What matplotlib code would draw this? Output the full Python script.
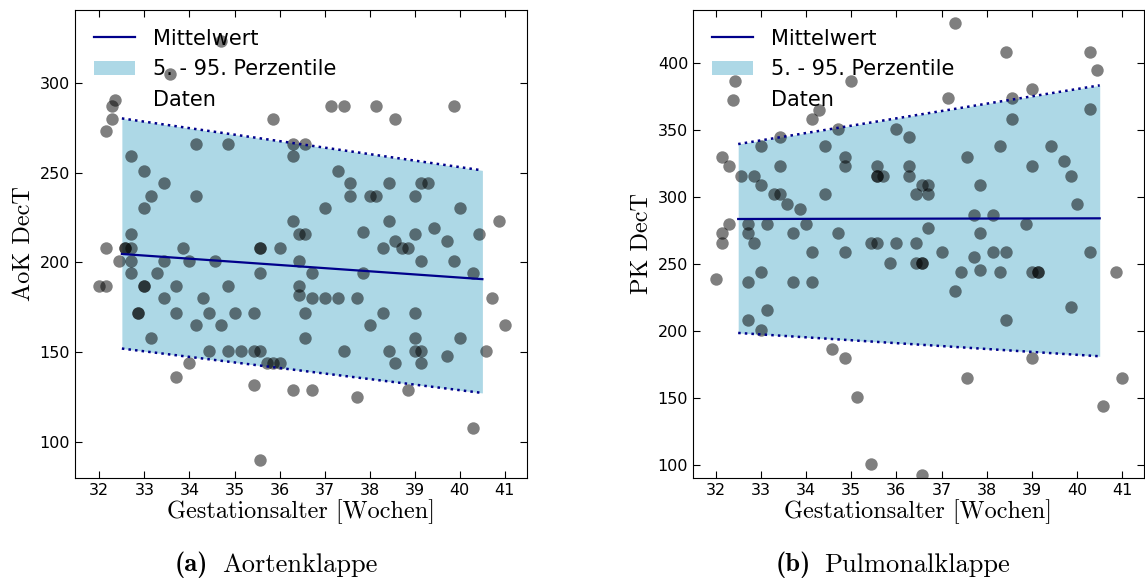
import matplotlib
matplotlib.use("Agg")
import matplotlib.pyplot as plt

# Aortenklappe (AoK DecT) -- gestational age [weeks], DecT [ms]
aok_x = [32.0, 32.14, 32.14, 32.43, 32.57, 32.57, 32.71, 32.71, 32.71, 33.0,
         33.0, 32.86, 32.86, 33.14, 33.29, 33.43, 33.43, 33.71, 33.71, 33.71,
         33.86, 34.0, 34.0, 34.14, 34.29, 34.43, 34.43, 34.57, 34.71, 34.86,
         34.86, 35.0, 35.14, 35.43, 35.43, 35.43, 35.57, 35.57, 35.57, 35.57,
         35.57, 35.71, 35.86, 36.0, 36.0, 36.29, 36.43, 36.43, 36.43, 36.71,
         36.71, 37.0, 37.29, 37.71, 37.86, 39.14, 39.86, 40.29, 40.71, 41.0,
         36.57, 38.29, 39.0, 38.0, 36.57, 39.0, 40.0, 37.43, 38.43, 39.0,
         39.14, 40.57, 39.71, 38.57, 39.14, 36.71, 37.71, 38.86, 40.29, 34.71,
         33.57, 32.29, 32.29, 32.14, 35.86, 34.14, 34.86, 36.29, 36.29, 32.71,
         33.0, 33.43, 33.14, 34.14, 33.0, 36.29, 32.71, 37.14, 37.43, 38.14,
         39.86, 38.57, 36.57, 37.29, 37.57, 38.43, 39.14, 39.29, 37.57, 38.0,
         38.14, 39.0, 37.0, 40.0, 38.43, 40.86, 36.43, 36.57, 37.86, 39.0,
         39.43, 39.71, 40.43, 38.57, 38.29, 38.71, 38.86]
aok_y = [187, 187, 208, 201, 208, 208, 208, 201, 194, 187,
         187, 172, 172, 158, 194, 201, 180, 187, 172, 136,
         208, 201, 144, 165, 180, 172, 151, 201, 165, 187,
         151, 172, 151, 172, 151, 132, 208, 208, 194, 151,
         90, 144, 144, 144, 208, 129, 201, 187, 182, 194,
         180, 180, 180, 180, 194, 201, 201, 194, 180, 165,
         172, 172, 172, 165, 158, 158, 158, 151, 151, 151,
         151, 151, 148, 144, 144, 129, 125, 129, 108, 323,
         305, 287, 280, 273, 280, 266, 266, 266, 259, 259,
         251, 244, 237, 237, 230, 223, 216, 287, 287, 287,
         287, 280, 266, 251, 244, 244, 244, 244, 237, 237,
         237, 237, 230, 230, 223, 223, 216, 216, 217, 216,
         219, 212, 216, 212, 208, 208, 208]

# Pulmonalklappe (PK DecT)
pk_x = [32.43, 35.0, 34.29, 34.14, 34.71, 36.0, 33.43, 36.29, 33.0, 34.43,
        32.14, 32.29, 34.86, 34.86, 33.43, 35.57, 36.29, 32.57, 32.86, 35.57,
        35.57, 35.71, 36.29, 33.0, 33.29, 33.43, 34.43, 36.43, 33.57, 33.86,
        32.29, 32.71, 33.14, 34.0, 32.14, 32.14, 32.71, 32.86, 33.71, 34.71,
        35.43, 35.57, 36.0, 36.43, 34.14, 34.86, 35.86, 36.43, 36.57, 36.57,
        32.0, 32.71, 33.0, 33.71, 34.14, 33.14, 32.71, 33.0, 34.57, 34.86,
        35.14, 35.43, 36.57, 37.0, 37.71, 38.14, 38.43, 40.29, 37.43, 37.86,
        38.29, 39.0, 39.14, 39.14, 40.86, 37.29, 39.86, 38.43, 39.0, 37.57,
        41.0, 40.57, 37.29, 38.43, 40.29, 40.43, 39.0, 37.14, 38.57, 40.29,
        38.57, 38.29, 39.43, 37.57, 39.71, 39.0, 39.86, 36.57, 36.71, 37.86,
        36.71, 40.0, 37.71, 38.14, 38.86, 36.71, 37.86]
pk_y = [387, 387, 365, 358, 351, 351, 345, 345, 338, 338,
        330, 323, 330, 323, 323, 323, 323, 316, 316, 316,
        316, 316, 316, 309, 302, 302, 302, 302, 295, 291,
        280, 280, 280, 280, 273, 266, 273, 266, 273, 273,
        266, 266, 266, 266, 259, 259, 251, 251, 251, 251,
        239, 237, 244, 237, 237, 216, 208, 201, 187, 180,
        151, 101, 93, 259, 255, 259, 259, 259, 244, 246,
        244, 244, 244, 244, 244, 230, 218, 208, 180, 165,
        165, 144, 430, 408, 408, 395, 381, 374, 374, 366,
        358, 338, 338, 330, 327, 323, 316, 309, 309, 309,
        302, 295, 287, 287, 280, 277, 273]

# regression mean and 5th/95th percentile at the ends of the fit range
fit_x = [32.5, 40.5]
aok_mean = [204.7, 190.7]
aok_p05 = [152.1, 127.4]
aok_p95 = [280.1, 251.2]
pk_mean = [283.7, 284.2]
pk_p05 = [198.7, 181.3]
pk_p95 = [339.6, 383.4]

XTICKS = list(range(32, 42))
LINE_COLOR = "#00008B"
BAND_COLOR = "#ADD8E6"
SERIF = "cmr10"
SERIF_BOLD = "cmb10"
W, H = 1145, 581


def panel(ax, x, y, mean, p05, p95, ylabel, xlim, ylim):
    ax.fill_between(fit_x, p05, p95, color=BAND_COLOR, linewidth=0,
                    label="5. - 95. Perzentile")
    ax.plot(fit_x, mean, color=LINE_COLOR, linewidth=1.6, label="Mittelwert")
    ax.plot(fit_x, p05, color=LINE_COLOR, linewidth=1.8, linestyle=":")
    ax.plot(fit_x, p95, color=LINE_COLOR, linewidth=1.8, linestyle=":")
    ax.scatter(x, y, s=80, color="k", alpha=0.5, linewidths=0, label="Daten")

    ax.set_xlim(*xlim)
    ax.set_ylim(*ylim)
    ax.set_xticks(XTICKS)
    ax.tick_params(direction="in", top=True, right=True, labelsize=11.5,
                   length=5)
    ax.set_xlabel("Gestationsalter [Wochen]", fontsize=17.5, family=SERIF,
                  labelpad=1)
    ax.set_ylabel(ylabel, fontsize=17.5, family=SERIF, labelpad=3)

    handles, labels = ax.get_legend_handles_labels()
    order = [labels.index(k) for k in ("Mittelwert", "5. - 95. Perzentile", "Daten")]
    ax.legend([handles[i] for i in order], [labels[i] for i in order],
              loc="upper left", frameon=False, fontsize=15,
              labelspacing=0.5, handletextpad=0.85, borderaxespad=0.5)


def caption(fig, x_tag, x_text, tag, text):
    y = 1 - 565 / H
    fig.text(x_tag / W, y, tag, ha="left", va="center", fontsize=19,
             family=SERIF_BOLD)
    fig.text(x_text / W, y, text, ha="left", va="center", fontsize=19,
             family=SERIF)


def main():
    fig = plt.figure(figsize=(W / 100, H / 100), dpi=100)
    ax1 = fig.add_axes([75 / W, 1 - 478 / H, 452 / W, 468 / H])
    ax2 = fig.add_axes([693 / W, 1 - 478 / H, 451 / W, 468 / H])

    panel(ax1, aok_x, aok_y, aok_mean, aok_p05, aok_p95,
          "AoK DecT", (31.46, 41.49), (80.1, 340.4))
    panel(ax2, pk_x, pk_y, pk_mean, pk_p05, pk_p95,
          "PK DecT", (31.5, 41.48), (90.5, 439.6))

    caption(fig, 175, 222, "(a)", "Aortenklappe")
    caption(fig, 776, 824, "(b)", "Pulmonalklappe")

    fig.savefig("out.png", dpi=100)
    plt.close(fig)


if __name__ == "__main__":
    main()
